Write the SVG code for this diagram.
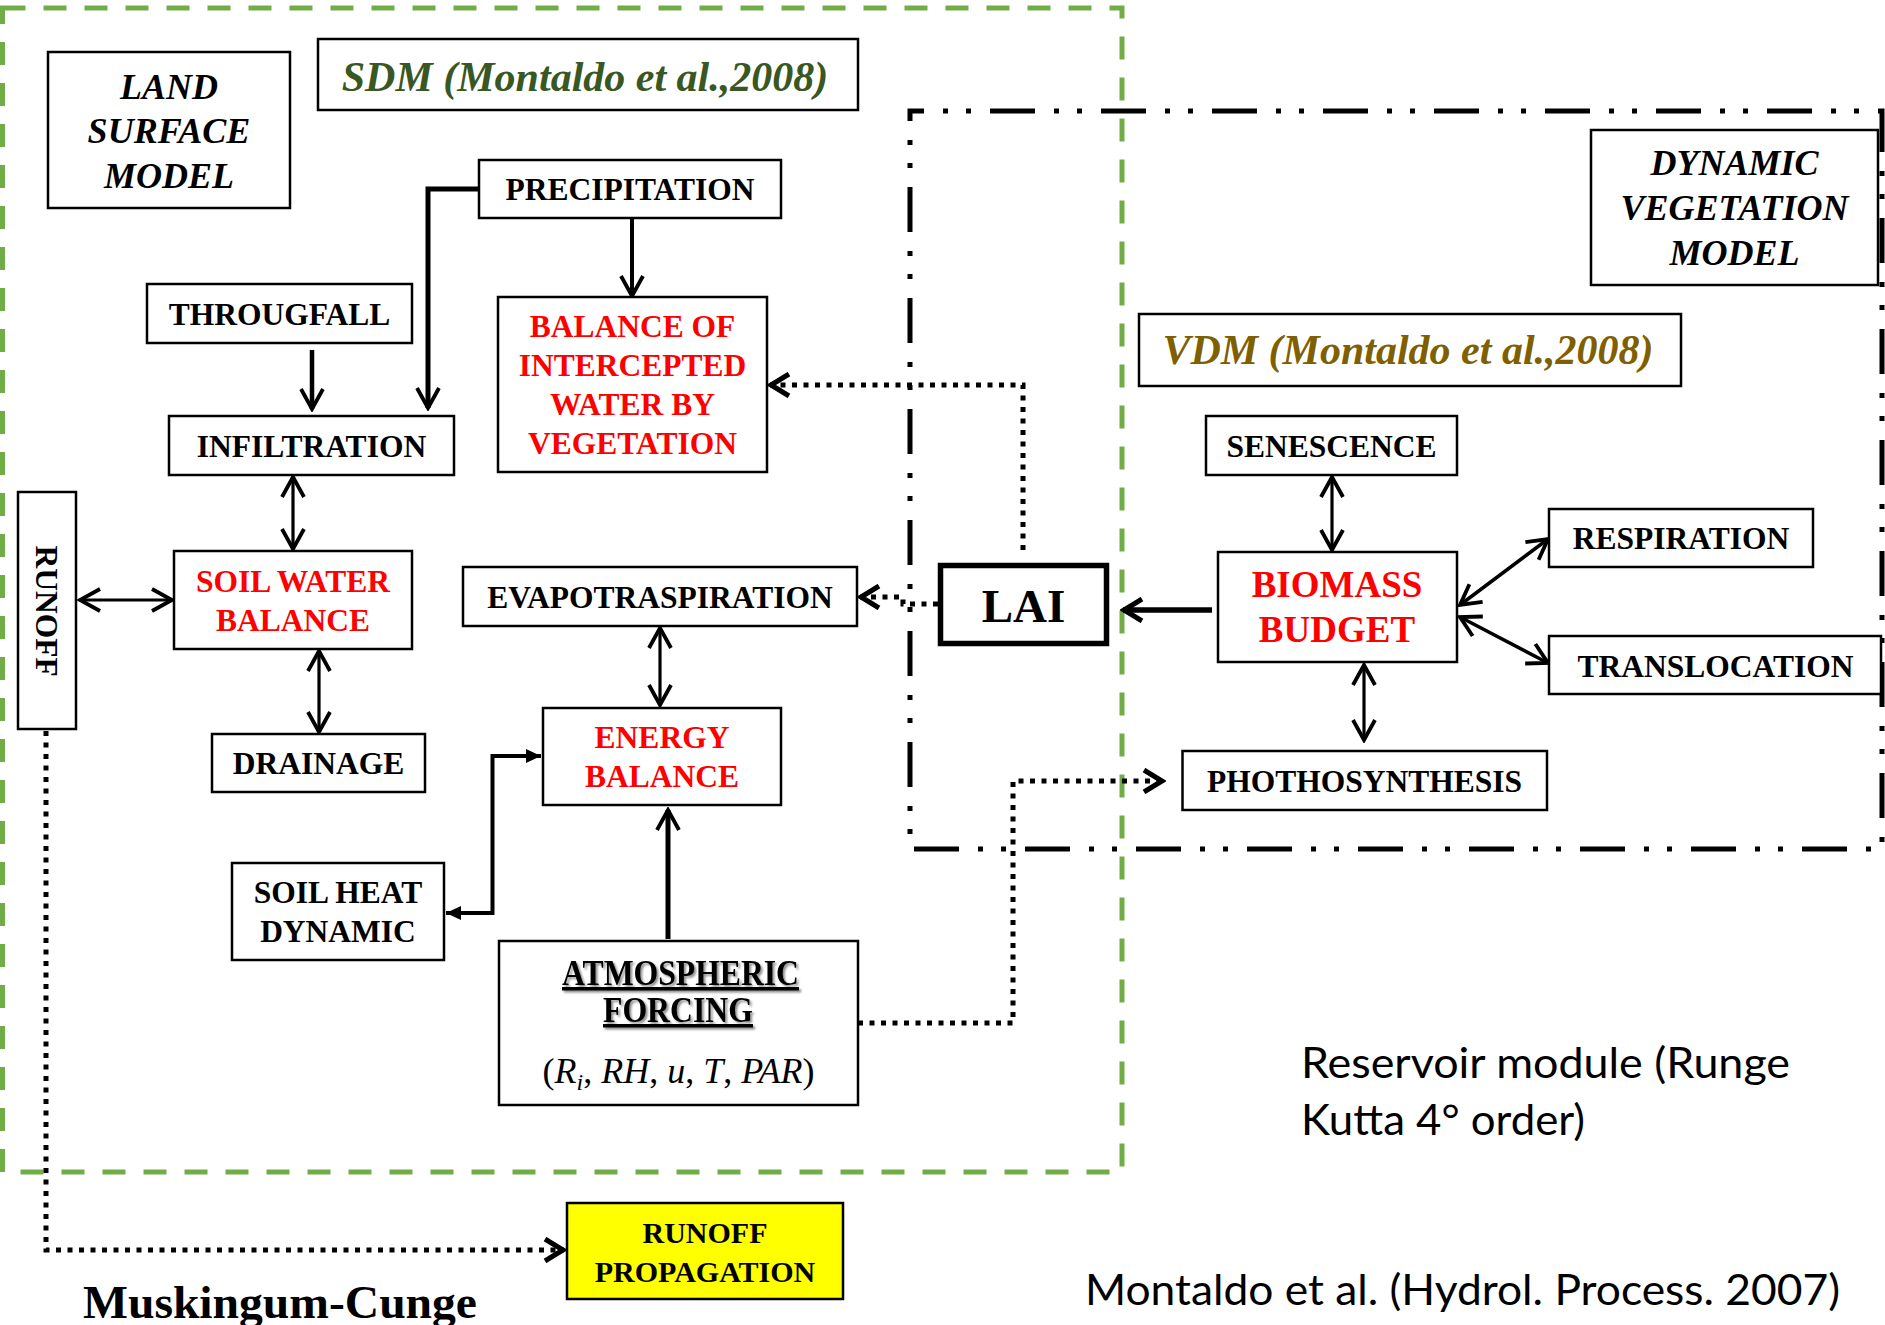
<svg xmlns="http://www.w3.org/2000/svg" width="1885" height="1325" viewBox="0 0 1885 1325">
<style>
  .box { fill: #ffffff; stroke: #000000; stroke-width: 2.5; }
  .t { font-family: "Liberation Serif", "Times New Roman", serif; font-weight: bold; font-size: 31.5px; fill: #000000; text-anchor: middle; }
  .red { fill: #ff0000; }
  .ti { font-family: "Liberation Serif", "Times New Roman", serif; font-weight: bold; font-style: italic; font-size: 36px; fill: #000000; text-anchor: middle; }
  .cal { font-family: Lato, "Open Sans", sans-serif; font-size: 42px; fill: #000000; }
  .ln { fill: none; stroke: #000000; stroke-width: 3.2; }
  .thick { stroke-width: 5; }
  .dot { fill: none; stroke: #000000; stroke-width: 5; stroke-dasharray: 5 6.5; }
</style>
<defs>
  <marker id="open" viewBox="0 0 26 26" refX="23" refY="13" markerWidth="26" markerHeight="26" markerUnits="userSpaceOnUse" orient="auto-start-reverse">
    <path d="M3,2 L23,13 L3,24" fill="none" stroke="#000" stroke-width="3.8" stroke-linejoin="miter"/>
  </marker>
  <marker id="openb" viewBox="0 0 26 26" refX="23" refY="13" markerWidth="26" markerHeight="26" markerUnits="userSpaceOnUse" orient="auto-start-reverse">
    <path d="M4,2 L22,13 L4,24" fill="none" stroke="#000" stroke-width="5" stroke-linejoin="miter"/>
  </marker>
  <marker id="solid" viewBox="0 0 16 16" refX="15" refY="8" markerWidth="16" markerHeight="16" markerUnits="userSpaceOnUse" orient="auto-start-reverse">
    <path d="M0,1 L15,8 L0,15 Z" fill="#000"/>
  </marker>
  <filter id="sh" x="-10%" y="-30%" width="130%" height="170%">
    <feDropShadow dx="2" dy="2" stdDeviation="1.2" flood-color="#000" flood-opacity="0.45"/>
  </filter>
</defs>
<rect width="1885" height="1325" fill="#ffffff"/>

<!-- frames -->
<g id="frames">
  <rect x="2.5" y="8" width="1119.5" height="1164" fill="none" stroke="#70ad47" stroke-width="5" stroke-dasharray="23 18"/>
  <rect x="910" y="111" width="972" height="738" fill="none" stroke="#000" stroke-width="5" stroke-dasharray="45 19 5 18 5 19" stroke-dashoffset="31"/>
</g>

<!-- connectors -->
<g id="connectors">
  <path class="ln thick" d="M479,189 H428 V408" marker-end="url(#open)"/>
  <path class="ln" style="stroke-width:4" d="M632,218 V296" marker-end="url(#open)"/>
  <path class="ln" style="stroke-width:4.5" d="M312,350 V409" marker-end="url(#open)"/>
  <path class="ln" d="M293,477 V549" marker-start="url(#open)" marker-end="url(#open)"/>
  <path class="ln" d="M80,600 H172" marker-start="url(#open)" marker-end="url(#open)"/>
  <path class="ln" d="M319,651 V732" marker-start="url(#open)" marker-end="url(#open)"/>
  <path class="ln" d="M660,628 V705" marker-start="url(#open)" marker-end="url(#open)"/>
  <path class="ln" style="stroke-width:4" d="M446,913 H492.5 V756 H541" marker-start="url(#solid)" marker-end="url(#solid)"/>
  <path class="ln thick" d="M668,939 V810" marker-end="url(#open)"/>
  <path class="dot" d="M1023,550 V385 H770" marker-end="url(#openb)"/>
  <path class="dot" d="M938,604 H903 V597 H860" marker-end="url(#openb)"/>
  <path class="dot" d="M858,1023 H1013 V781 H1163" marker-end="url(#openb)"/>
  <path class="dot" d="M46,731 V1250 H564" marker-end="url(#openb)"/>
  <path class="ln" style="stroke-width:5.5" d="M1212,610 H1123" marker-end="url(#openb)"/>
  <path class="ln" d="M1332,477 V550" marker-start="url(#open)" marker-end="url(#open)"/>
  <path class="ln" style="stroke-width:3.5" d="M1460,605 L1548,539" marker-start="url(#open)" marker-end="url(#open)"/>
  <path class="ln" style="stroke-width:3.5" d="M1460,617 L1548,663" marker-start="url(#open)" marker-end="url(#open)"/>
  <path class="ln" d="M1364,665 V740" marker-start="url(#open)" marker-end="url(#open)"/>
</g>

<!-- nodes -->
<g id="land-surface-model">
  <rect class="box" x="48" y="52" width="242" height="156"/>
  <text class="ti" x="169" y="99">LAND</text>
  <text class="ti" x="169" y="143">SURFACE</text>
  <text class="ti" x="169" y="188">MODEL</text>
</g>
<g id="sdm-title">
  <rect class="box" x="318" y="39" width="540" height="71"/>
  <text class="ti" x="585" y="91" style="font-size:42px;fill:#385723">SDM (Montaldo et al.,2008)</text>
</g>
<g id="precipitation">
  <rect class="box" x="479" y="160" width="302" height="58"/>
  <text class="t" x="630" y="200">PRECIPITATION</text>
</g>
<g id="througfall">
  <rect class="box" x="147" y="284" width="265" height="59"/>
  <text class="t" x="279.5" y="325">THROUGFALL</text>
</g>
<g id="infiltration">
  <rect class="box" x="169" y="416" width="285" height="59"/>
  <text class="t" x="311.5" y="457">INFILTRATION</text>
</g>
<g id="balance-intercepted">
  <rect class="box" x="498" y="297" width="269" height="175"/>
  <text class="t red" x="632.5" y="337">BALANCE OF</text>
  <text class="t red" x="632.5" y="376">INTERCEPTED</text>
  <text class="t red" x="632.5" y="415">WATER BY</text>
  <text class="t red" x="632.5" y="454">VEGETATION</text>
</g>
<g id="runoff">
  <rect class="box" x="18" y="492" width="58" height="237"/>
  <text class="t" transform="translate(47,611) rotate(90)" x="0" y="11">RUNOFF</text>
</g>
<g id="soil-water-balance">
  <rect class="box" x="174" y="551" width="238" height="98"/>
  <text class="t red" x="293" y="592">SOIL WATER</text>
  <text class="t red" x="293" y="631">BALANCE</text>
</g>
<g id="drainage">
  <rect class="box" x="212" y="734" width="213" height="58"/>
  <text class="t" x="318.5" y="774">DRAINAGE</text>
</g>
<g id="evapotraspiration">
  <rect class="box" x="463" y="567" width="394" height="59"/>
  <text class="t" x="660" y="608">EVAPOTRASPIRATION</text>
</g>
<g id="energy-balance">
  <rect class="box" x="543" y="708" width="238" height="97"/>
  <text class="t red" x="662" y="748">ENERGY</text>
  <text class="t red" x="662" y="787">BALANCE</text>
</g>
<g id="soil-heat-dynamic">
  <rect class="box" x="232" y="863" width="212" height="97"/>
  <text class="t" x="338" y="903">SOIL HEAT</text>
  <text class="t" x="338" y="942">DYNAMIC</text>
</g>
<g id="atmospheric-forcing">
  <rect class="box" x="499" y="941" width="359" height="164"/>
  <text class="t" x="680.5" y="985" style="font-size:35px" text-decoration="underline" textLength="237" lengthAdjust="spacingAndGlyphs" filter="url(#sh)">ATMOSPHERIC</text>
  <text class="t" x="678" y="1022" style="font-size:35px" text-decoration="underline" textLength="150" lengthAdjust="spacingAndGlyphs" filter="url(#sh)">FORCING</text>
  <text class="t" x="678.5" y="1083" style="font-weight:normal;font-size:36px">(<tspan font-style="italic">R</tspan><tspan font-style="italic" font-size="24" dy="7">i</tspan><tspan dy="-7">, </tspan><tspan font-style="italic">RH</tspan>, <tspan font-style="italic">u</tspan>, <tspan font-style="italic">T</tspan>, <tspan font-style="italic">PAR</tspan>)</text>
</g>
<g id="lai">
  <rect x="940.5" y="565.5" width="166" height="78" fill="#fff" stroke="#000" stroke-width="5.5"/>
  <text class="t" x="1023.5" y="622" style="font-size:47px">LAI</text>
</g>
<g id="dynamic-vegetation-model">
  <rect class="box" x="1591" y="130" width="287" height="155"/>
  <text class="ti" x="1734.5" y="175">DYNAMIC</text>
  <text class="ti" x="1734.5" y="220">VEGETATION</text>
  <text class="ti" x="1734.5" y="265">MODEL</text>
</g>
<g id="vdm-title">
  <rect class="box" x="1139" y="314" width="542" height="72"/>
  <text class="ti" x="1408" y="364" style="font-size:42px;fill:#7f6000">VDM (Montaldo et al.,2008)</text>
</g>
<g id="senescence">
  <rect class="box" x="1206" y="416" width="251" height="59"/>
  <text class="t" x="1331.5" y="457">SENESCENCE</text>
</g>
<g id="biomass-budget">
  <rect class="box" x="1218" y="552" width="239" height="110"/>
  <text class="t red" x="1337" y="597" style="font-size:37px">BIOMASS</text>
  <text class="t red" x="1337" y="642" style="font-size:37px">BUDGET</text>
</g>
<g id="respiration">
  <rect class="box" x="1549" y="509" width="264" height="58"/>
  <text class="t" x="1681" y="549">RESPIRATION</text>
</g>
<g id="translocation">
  <rect class="box" x="1549" y="636" width="332" height="58"/>
  <text class="t" x="1715.5" y="677">TRANSLOCATION</text>
</g>
<g id="phothosynthesis">
  <rect class="box" x="1182.5" y="751" width="364.5" height="59"/>
  <text class="t" x="1364.5" y="792">PHOTHOSYNTHESIS</text>
</g>
<g id="runoff-propagation">
  <rect x="567" y="1203" width="276" height="96" fill="#ffff00" stroke="#000" stroke-width="2.5"/>
  <text class="t" x="705" y="1243" style="font-size:30px">RUNOFF</text>
  <text class="t" x="705" y="1282" style="font-size:30px">PROPAGATION</text>
</g>

<!-- free labels -->
<g id="labels">
  <text x="83" y="1318" style="font-family:'Liberation Serif','Times New Roman',serif;font-weight:bold;font-size:47px" textLength="394" lengthAdjust="spacingAndGlyphs">Muskingum-Cunge</text>
  <text class="cal" x="1301" y="1078" textLength="489" lengthAdjust="spacingAndGlyphs">Reservoir module (Runge</text>
  <text class="cal" x="1301" y="1135" textLength="284" lengthAdjust="spacingAndGlyphs">Kutta 4° order)</text>
  <text class="cal" x="1085" y="1305" textLength="755" lengthAdjust="spacingAndGlyphs">Montaldo et al. (Hydrol. Process. 2007)</text>
</g>
</svg>
